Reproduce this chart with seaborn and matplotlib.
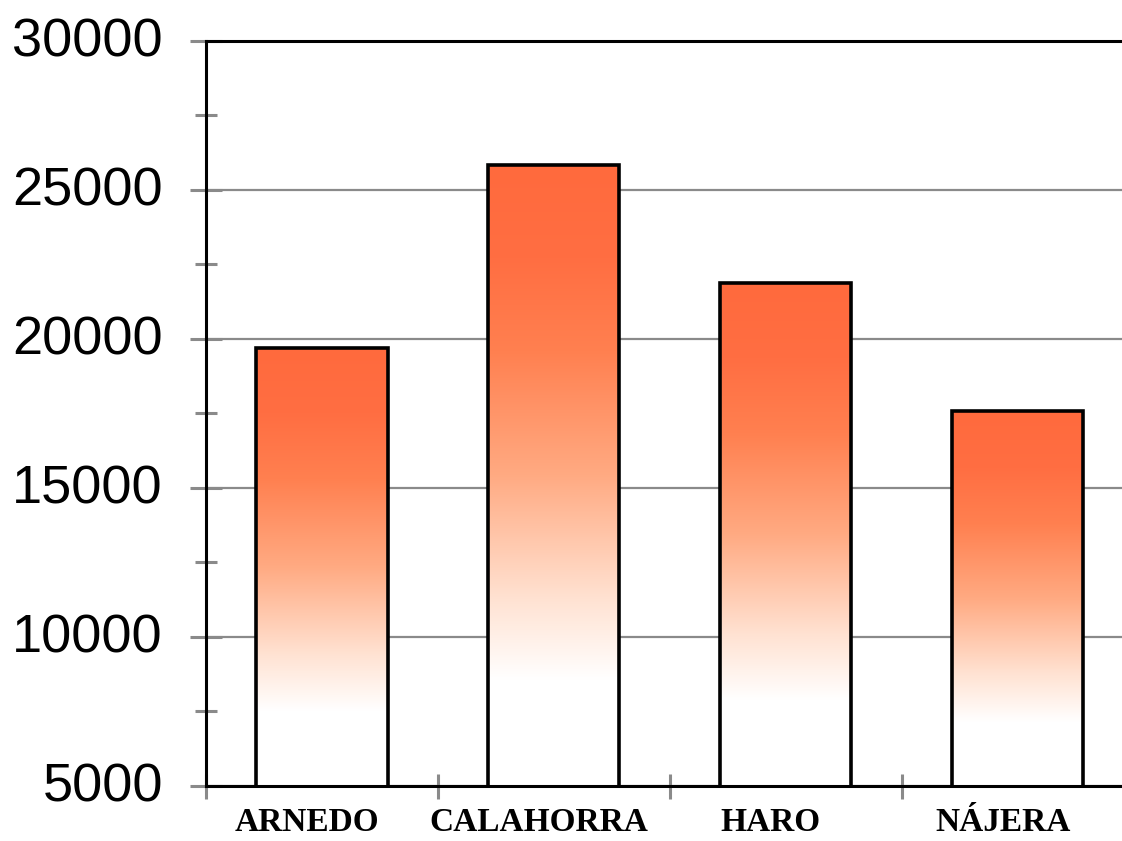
import matplotlib
matplotlib.use("Agg")
import matplotlib.pyplot as plt
import matplotlib.transforms as mtransforms
from matplotlib.colors import LinearSegmentedColormap
import numpy as np
import pandas as pd
import seaborn as sns

# datos
cities = ["ARNEDO", "CALAHORRA", "HARO", "NÁJERA"]
values = [19700, 25850, 21880, 17580]
y_ticks = [5000, 10000, 15000, 20000, 25000, 30000]
y_minor = [7500, 12500, 17500, 22500, 27500]

df = pd.DataFrame({"city": cities, "value": values})

sns.set_style("white")
plt.rcParams["font.family"] = ["Liberation Sans", "DejaVu Sans"]

fig = plt.figure(figsize=(11.22, 8.41), dpi=100)
ax = fig.add_axes([0.1836, 0.0654, 0.827, 0.8859])

sns.barplot(data=df, x="city", y="value", ax=ax, width=0.565,
            color="white", edgecolor="black", linewidth=2.6, zorder=3)
ax.set_xlabel("")
ax.set_ylabel("")

# degradado naranja -> blanco dentro de cada barra
grad_cmap = LinearSegmentedColormap.from_list(
    "naranja", [(0, "white"), (0.17, "white"), (0.3, "#FFE2D2"),
                (0.5, "#FFAA82"), (0.7, "#FF8050"), (0.85, "#FF6E42"),
                (1, "#FF6A3D")])
gradient = np.linspace(0, 1, 256).reshape(-1, 1)
for bar in ax.patches:
    x0 = bar.get_x()
    w = bar.get_width()
    top = bar.get_height()
    ax.imshow(gradient, cmap=grad_cmap, origin="lower", aspect="auto",
              extent=[x0, x0 + w, y_ticks[0], top], zorder=2.5)
    bar.set_facecolor("none")

ax.set_xlim(-0.5, 3.5)
ax.set_ylim(y_ticks[0], y_ticks[-1])

# rejilla y ejes
ax.set_axisbelow(True)
ax.yaxis.grid(True, color="#8a8a8a", linewidth=1.6)
for side in ["left", "top", "bottom"]:
    ax.spines[side].set_color("black")
    ax.spines[side].set_linewidth(2.2)
ax.spines["right"].set_visible(False)

ax.set_yticks(y_ticks)
ax.set_yticks(y_minor, minor=True)
ax.set_yticklabels([str(t) for t in y_ticks])
ax.tick_params(axis="y", which="both", left=True)
ax.tick_params(axis="y", which="major", direction="inout", length=23, width=2.2,
               color="#8a8a8a", pad=19.5, labelsize=39, labelcolor="black")
ax.tick_params(axis="y", which="minor", direction="inout", length=16, width=2.2,
               color="#8a8a8a")

ax.set_xticks(range(len(cities)))
ax.set_xticklabels(cities, family=["Liberation Serif", "DejaVu Serif"],
                   fontweight="bold", fontsize=24)
ax.set_xticks(np.arange(-0.5, len(cities), 1.0), minor=True)
ax.tick_params(axis="x", which="both", bottom=True)
ax.tick_params(axis="x", which="major", length=0, pad=15, labelcolor="black")
ax.tick_params(axis="x", which="minor", direction="inout", length=18, width=2.2,
               color="#8a8a8a")

# pequeños desplazamientos de las etiquetas como en el original
for lab in ax.get_xticklabels():
    lab.set_transform(lab.get_transform() +
                      mtransforms.ScaledTranslation(-15 / 100, 0, fig.dpi_scale_trans))
for lab in ax.get_yticklabels():
    lab.set_transform(lab.get_transform() +
                      mtransforms.ScaledTranslation(0, 4 / 100, fig.dpi_scale_trans))

fig.savefig("out.png", dpi=100)
